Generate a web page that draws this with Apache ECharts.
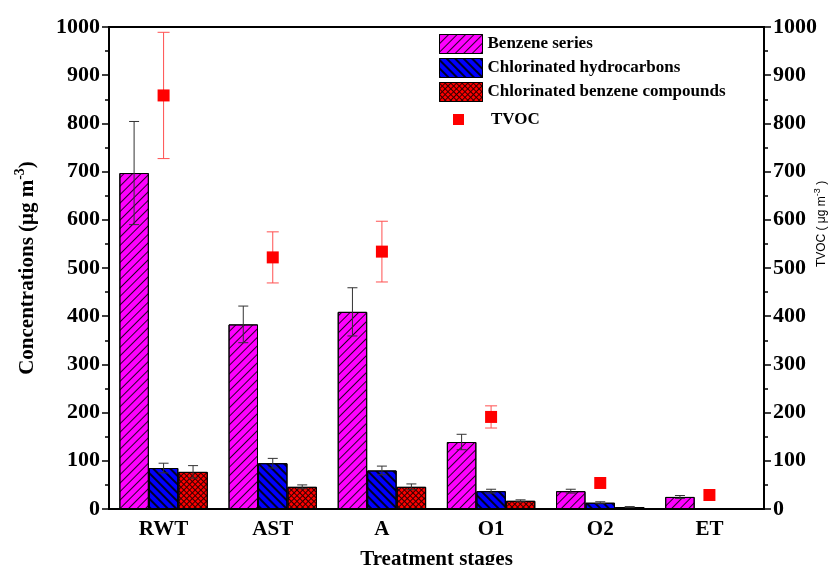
<!DOCTYPE html>
<html>
<head>
<meta charset="utf-8">
<script src="https://cdn.jsdelivr.net/npm/echarts@6/dist/echarts.min.js"></script>
<style>
  html, body { margin: 0; padding: 0; background: #fff; }
  #chart { width: 835px; height: 565px; }
</style>
</head>
<body>
<div id="chart"></div>
<script>
// 处理阶段
const stages = ['RWT', 'AST', 'A', 'O1', 'O2', 'ET']
// 各类物质浓度及误差
const benzene = [697, 383, 409, 139, 37, 25]
const benzeneErr = [107, 38, 50, 16, 4, 3]
const chlHC = [85, 95, 80, 37, 13, 1]
const chlHCErr = [10, 10, 9, 4, 2, 0]
const chlBz = [77, 46, 46, 17, 4, 1]
const chlBzErr = [13, 4, 6, 2, 1, 0]
const tvoc = [858, 522, 534, 191, 54, 29]
const tvocErr = [131, 53, 63, 23, 0, 0]

const serif = '"Times New Roman", "Liberation Serif", serif'
const gapRatio = 0.19

function errData(vals, errs) {
  return vals.map((v, i) => [i, v, errs[i]])
}

// 误差棒
function errRender(offset, color, cap) {
  return function(params, api) {
    const e = api.value(2)
    if (!e) return
    const idx = api.value(0)
    const v = api.value(1)
    const band = api.size([1, 0])[0]
    const barW = band * (1 - gapRatio) / 3
    const x = api.coord([idx, v])[0] + offset * barW
    const hi = api.coord([idx, v + e])[1]
    const lo = api.coord([idx, v - e])[1]
    const style = { stroke: color, lineWidth: 1 }
    return {
      type: 'group',
      children: [
        { type: 'line', shape: { x1: x, y1: hi, x2: x, y2: lo }, style },
        { type: 'line', shape: { x1: x - cap, y1: hi, x2: x + cap, y2: hi }, style },
        { type: 'line', shape: { x1: x - cap, y1: lo, x2: x + cap, y2: lo }, style }
      ]
    }
  }
}

function yAxisBase(pos) {
  return {
    type: 'value',
    position: pos,
    min: 0,
    max: 1000,
    interval: 100,
    splitLine: { show: false },
    axisLine: { show: true, lineStyle: { color: '#000', width: 2 } },
    axisTick: { show: true, inside: false, length: 7, lineStyle: { color: '#000', width: 1.5 } },
    minorTick: { show: true, splitNumber: 2, length: 4, lineStyle: { color: '#000', width: 1.5 } },
    axisLabel: {
      color: '#000',
      fontFamily: serif,
      fontWeight: 'bold',
      fontSize: 22,
      margin: 9,
      formatter: v => String(v)
    }
  }
}

const chart = echarts.init(document.getElementById('chart'))
const leftAxis = yAxisBase('left')
leftAxis.name = '{a|Concentrations (μg m}{b|-3}{a|)}'
leftAxis.nameLocation = 'middle'
leftAxis.nameGap = 66
leftAxis.nameRotate = 90
leftAxis.nameTextStyle = {
  rich: {
    a: { fontFamily: serif, fontWeight: 'bold', fontSize: 21, color: '#000', lineHeight: 30 },
    b: { fontFamily: serif, fontWeight: 'bold', fontSize: 14, color: '#000', verticalAlign: 'top', lineHeight: 14 }
  }
}
const rightAxis = yAxisBase('right')

chart.setOption({
  animation: false,
  backgroundColor: '#fff',
  grid: {
    left: 109,
    right: 71,
    top: 27,
    bottom: 56,
    show: true,
    borderColor: '#000',
    borderWidth: 2,
    outerBoundsMode: 'none'
  },
  legend: [
    {
      data: ['Benzene series', 'Chlorinated hydrocarbons', 'Chlorinated benzene compounds'],
      orient: 'vertical',
      icon: 'rect',
      left: 434,
      top: 29,
      itemWidth: 43,
      itemHeight: 19,
      itemGap: 4,
      itemStyle: { borderColor: '#000', borderWidth: 1 },
      textStyle: { fontFamily: serif, fontWeight: 'bold', fontSize: 17, color: '#000' }
    },
    {
      data: ['TVOC'],
      icon: 'rect',
      left: 448,
      top: 106,
      itemWidth: 11,
      itemHeight: 11,
      itemStyle: { borderWidth: 0 },
      textStyle: { fontFamily: serif, fontWeight: 'bold', fontSize: 17, color: '#000', padding: [0, 0, 0, 22] }
    }
  ],
  xAxis: {
    type: 'category',
    data: stages,
    name: 'Treatment stages',
    nameLocation: 'middle',
    nameGap: 40,
    nameTextStyle: { fontFamily: serif, fontWeight: 'bold', fontSize: 21, color: '#000' },
    axisLine: { lineStyle: { color: '#000', width: 2 } },
    axisTick: { show: false },
    axisLabel: { color: '#000', fontFamily: serif, fontWeight: 'bold', fontSize: 21, margin: 10 }
  },
  yAxis: [leftAxis, rightAxis],
  graphic: [
    {
      type: 'text',
      x: 822,
      y: 224,
      rotation: Math.PI / 2,
      style: {
        text: '{a|TVOC ( μg m}{b|-3}{a| )}',
        align: 'center',
        verticalAlign: 'middle',
        rich: {
          a: { fontFamily: 'Arial, "Liberation Sans", sans-serif', fontSize: 12, fill: '#000', lineHeight: 18 },
          b: { fontFamily: 'Arial, "Liberation Sans", sans-serif', fontSize: 9, fill: '#000', verticalAlign: 'top', lineHeight: 9 }
        }
      }
    }
  ],
  series: [
    {
      name: 'Benzene series',
      type: 'bar',
      data: benzene,
      barGap: '0%',
      barCategoryGap: gapRatio * 100 + '%',
      itemStyle: {
        color: '#FF00FF',
        borderColor: '#000',
        borderWidth: 1,
        decal: { symbol: 'rect', symbolSize: 1, color: 'rgba(0,0,0,0.85)', dashArrayX: [1, 0], dashArrayY: [1, 5], rotation: -Math.PI / 4 }
      }
    },
    {
      name: 'Chlorinated hydrocarbons',
      type: 'bar',
      data: chlHC,
      itemStyle: {
        color: '#0000FF',
        borderColor: '#000',
        borderWidth: 1,
        decal: { symbol: 'rect', symbolSize: 1, color: 'rgba(0,0,0,0.85)', dashArrayX: [1, 0], dashArrayY: [1.5, 3.5], rotation: Math.PI / 4 }
      }
    },
    {
      name: 'Chlorinated benzene compounds',
      type: 'bar',
      data: chlBz,
      itemStyle: {
        color: '#FF0000',
        borderColor: '#000',
        borderWidth: 1,
        decal: { symbol: 'rect', symbolSize: 1, color: 'rgba(0,0,0,0.8)', dashArrayX: [[1, 0], [1, 3]], dashArrayY: [1, 0, 3, 0], rotation: Math.PI / 4 }
      }
    },
    {
      name: 'TVOC',
      type: 'scatter',
      yAxisIndex: 1,
      data: tvoc.map((v, i) => [i, v]),
      symbol: 'rect',
      symbolSize: 12,
      itemStyle: { color: '#FF0000', opacity: 1 },
      z: 5
    },
    {
      type: 'custom',
      renderItem: errRender(-1, '#333', 5),
      data: errData(benzene, benzeneErr),
      encode: { x: 0, y: 1 },
      z: 4
    },
    {
      type: 'custom',
      renderItem: errRender(0, '#333', 5),
      data: errData(chlHC, chlHCErr),
      encode: { x: 0, y: 1 },
      z: 4
    },
    {
      type: 'custom',
      renderItem: errRender(1, '#333', 5),
      data: errData(chlBz, chlBzErr),
      encode: { x: 0, y: 1 },
      z: 4
    },
    {
      type: 'custom',
      yAxisIndex: 1,
      renderItem: errRender(0, '#FF5050', 6),
      data: errData(tvoc, tvocErr),
      encode: { x: 0, y: 1 },
      z: 4
    }
  ]
})
</script>
</body>
</html>
